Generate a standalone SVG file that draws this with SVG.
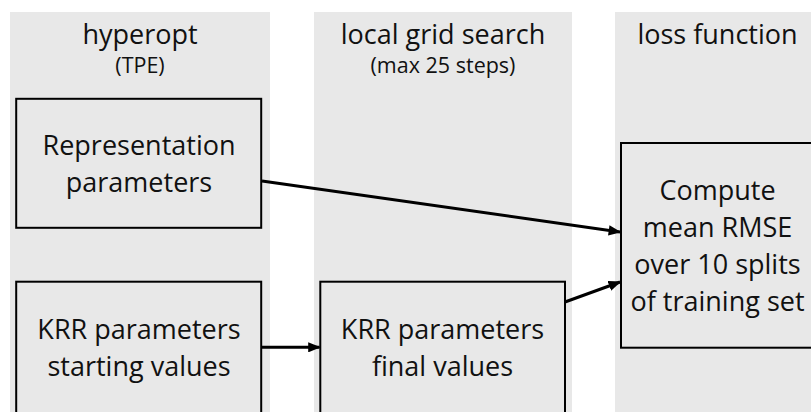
<svg xmlns="http://www.w3.org/2000/svg" width="811" height="412" viewBox="0 0 811 412">
<defs>
<style>
.col{fill:#e8e8e8;stroke:none}
.box{fill:#e8e8e8;stroke:#000;stroke-width:2}
.t{font-family:"Open Sans","Noto Sans",sans-serif;fill:#111;text-anchor:middle}
.h{font-size:27px}
.s{font-size:21.5px}
.b{font-size:27px}
.c{stroke:#000;stroke-width:3;fill:none;marker-end:url(#ah)}
</style>
<marker id="ah" viewBox="0 0 10 10" refX="9" refY="5" markerWidth="4.2" markerHeight="3.4" orient="auto" markerUnits="strokeWidth" preserveAspectRatio="none">
<path d="M0,0 L10,5 L0,10 Z" fill="#000"/>
</marker>
</defs>
<rect width="811" height="412" fill="#fff"/>
<g id="col-hyperopt">
<rect class="col" x="10" y="12" width="260" height="400"/>
<text class="t h" x="140" y="44">hyperopt</text>
<text class="t s" x="140" y="73">(TPE)</text>
</g>
<g id="col-grid">
<rect class="col" x="314" y="12" width="258" height="400"/>
<text class="t h" x="443" y="44">local grid search</text>
<text class="t s" x="443" y="73">(max 25 steps)</text>
</g>
<g id="col-loss">
<rect class="col" x="615" y="12" width="200" height="400"/>
<text class="t h" x="717.5" y="44">loss function</text>
</g>
<g id="node-rep">
<rect class="box" x="16.2" y="98.8" width="245" height="129"/>
<text class="t b" x="139" y="155">Representation</text>
<text class="t b" x="139" y="192">parameters</text>
</g>
<g id="node-krr-start">
<rect class="box" x="16.2" y="281.7" width="245" height="140"/>
<text class="t b" x="139" y="339">KRR parameters</text>
<text class="t b" x="139" y="376">starting values</text>
</g>
<g id="node-krr-final">
<rect class="box" x="320.3" y="281.7" width="244.7" height="140"/>
<text class="t b" x="442.5" y="339">KRR parameters</text>
<text class="t b" x="442.5" y="376">final values</text>
</g>
<g id="node-compute">
<rect class="box" x="621" y="143" width="200" height="204.7"/>
<text class="t b" x="717.5" y="200">Compute</text>
<text class="t b" x="717.5" y="237">mean RMSE</text>
<text class="t b" x="717.5" y="274">over 10 splits</text>
<text class="t b" x="717.5" y="311">of training set</text>
</g>
<g id="connectors">
<line class="c" x1="262" y1="181" x2="620" y2="232"/>
<line class="c" x1="565" y1="302" x2="620" y2="282"/>
<line class="c" x1="262" y1="347.3" x2="319.5" y2="347.3"/>
</g>
</svg>
